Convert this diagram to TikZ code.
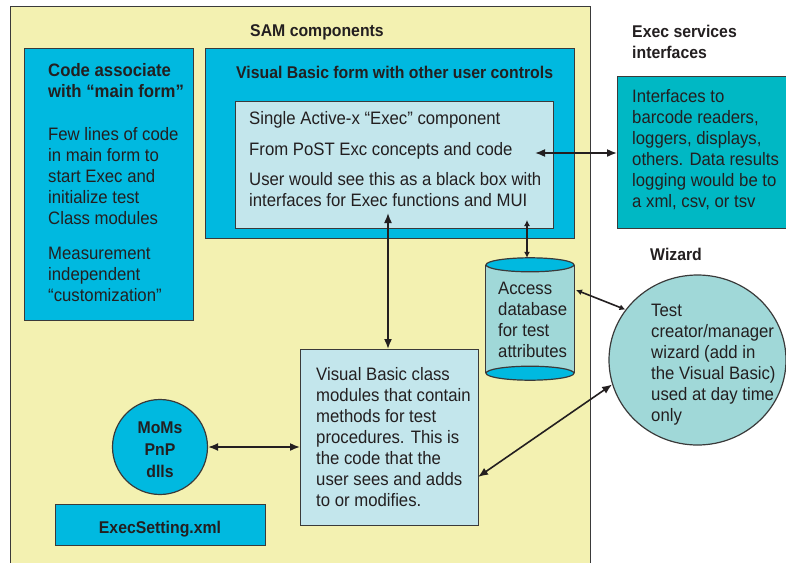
\documentclass[tikz,border=0pt]{standalone}
\usepackage{fontspec}
\setmainfont[FakeStretch=0.93]{Liberation Sans}
\usetikzlibrary{shapes.geometric, arrows.meta, positioning}

\definecolor{samyellow}{HTML}{F3F1B1}
\definecolor{boxcyan}{HTML}{00B9E0}
\definecolor{execlight}{HTML}{C3E6EC}
\definecolor{ifteal}{HTML}{00B8C4}
\definecolor{wizteal}{HTML}{A0D8D8}
\definecolor{inkgray}{HTML}{231F20}
\definecolor{edgegray}{HTML}{3A3A3A}

\begin{document}
\begin{tikzpicture}[x=1pt, y=-1pt,
  box/.style={rectangle, draw=edgegray, line width=1.2, anchor=north west, inner sep=0pt},
  roundbox/.style={draw=edgegray, line width=1.2, inner sep=0pt},
  edge/.style={draw=edgegray, line width=1.2},
  txt/.style={anchor=base west, align=left, inner sep=0pt, text=inkgray, font=\fontsize{18}{21}\selectfont},
  btxt/.style={txt, font=\fontsize{17}{21}\selectfont\bfseries},
  link/.style={{Latex[length=10, width=8]}-{Latex[length=10, width=8]}, line width=1.6, draw=inkgray},
  shortlink/.style={{Latex[length=6, width=6]}-{Latex[length=6, width=6]}, line width=1.6, draw=inkgray}]

\useasboundingbox (0,0) rectangle (786,562);

% Boxes
\node (sam) [box, fill=samyellow, minimum width=580, minimum height=570] at (10,6) {};
\node (code) [box, fill=boxcyan, minimum width=169, minimum height=272] at (24,48) {};
\node (vbform) [box, fill=boxcyan, minimum width=369, minimum height=190] at (205,48) {};
\node (exec) [box, fill=execlight, minimum width=318, minimum height=127] at (235,101) {};
\node (ifaces) [box, fill=ifteal, minimum width=200, minimum height=152] at (617,76) {};

% database drum
\node (db) [rectangle, inner sep=0pt, fill=wizteal, minimum width=88, minimum height=108] at (530,319) {};
\draw [edge] (db.north west) -- (db.south west) (db.north east) -- (db.south east);
\draw [edge, fill=boxcyan] (db.south) ellipse [x radius=44, y radius=7];
\draw [edge, fill=boxcyan] (db.north) ellipse [x radius=44, y radius=7];
\coordinate (dbtop) at ([yshift=7pt]db.north);

\node (wizard) [ellipse, roundbox, fill=wizteal, minimum width=177, minimum height=170] at (697.5,360) {};
\node (vbclass) [box, fill=execlight, minimum width=178, minimum height=176] at (300,349) {};
\node (moms) [circle, roundbox, fill=boxcyan, minimum size=95] at (160,447) {};
\node (setting) [box, fill=boxcyan, minimum width=210, minimum height=41] at (55,504) {};

% Texts (multi-line ones sit on their last baseline)
\node (samtitle) [btxt, anchor=base] at (317,36) {SAM components};
\node (codetext) [txt] at (48,301) {\textbf{Code associate}\\\textbf{with “main form”}\\[22pt]Few lines of code\\in main form to\\start Exec and\\initialize test\\Class modules\\[14pt]Measurement\\independent\\“customization”};
\node (vbtitle) [btxt] at (236,78) {Visual Basic form with other user controls};
\node (exectext) [txt] at (249,206) {Single Active-x “Exec” component\\[10pt]From PoST Exc concepts and code\\[9pt]User would see this as a black box with\\interfaces for Exec functions and MUI};
\node (ifacestitle) [btxt] at (632,58) {Exec services\\interfaces};
\node (ifacestext) [txt] at (632,207) {Interfaces to\\barcode readers,\\loggers, displays,\\others. Data results\\logging would be to\\a xml, csv, or tsv};
\node (wiztitle) [btxt] at (650,260) {Wizard};
\node (wiztext) [txt] at (651,421) {Test\\creator/manager\\wizard (add in\\the Visual Basic)\\used at day time\\only};
\node (dbtext) [txt] at (498,357) {Access\\database\\for test\\attributes};
\node (vbclasstext) [txt] at (316,506) {Visual Basic class\\modules that contain\\methods for test\\procedures. This is\\the code that the\\user sees and adds\\to or modifies.};
\node (momstext) [btxt, align=center, anchor=base] at (160,477) {MoMs\\[1pt]PnP\\[1pt]dlls};
\node (settingtext) [btxt, anchor=base] at (160,533) {ExecSetting.xml};

% Arrows
\coordinate (execR) at (535,153);
\coordinate (execS) at (388,213);
\coordinate (execD) at (527,220);
\coordinate (dbE) at (576,290);
\coordinate (vbE) at (478,477);

\draw [link] (execR) -- (execR -| ifaces.west);
\draw [link] (execS) -- (execS |- vbclass.north);
\draw [shortlink] (execD) -- (execD |- dbtop);
\draw [shortlink] (dbE) -- (wizard.145);
\draw [link] (vbE) -- (wizard.196);
\draw [link] (moms) -- (vbclass.west |- moms);

\end{tikzpicture}
\end{document}
